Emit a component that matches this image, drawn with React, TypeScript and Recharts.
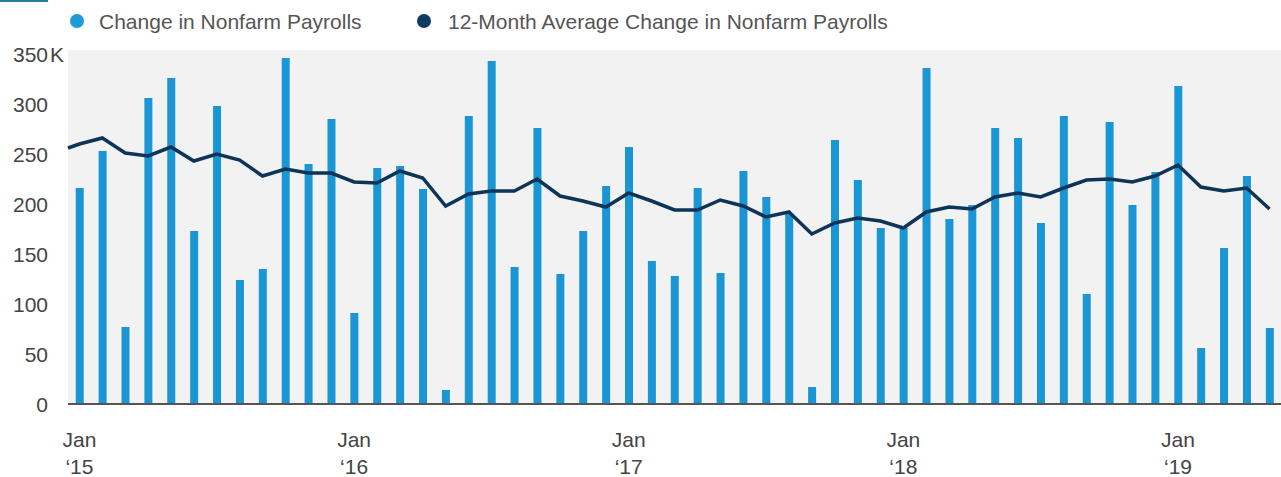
import React from 'react'
import { ComposedChart, Bar, Line, XAxis, YAxis, CartesianGrid } from 'recharts'

// monthly change in nonfarm payrolls, Jan 2015 - May 2019 (thousands)
const payrolls = [
    216, 253, 77, 306, 326, 173, 298, 124, 135, 346, 240, 285,
    91, 236, 238, 215, 14, 288, 343, 137, 276, 130, 173, 218,
    257, 143, 128, 216, 131, 233, 207, 190, 17, 264, 224, 176,
    176, 336, 185, 199, 276, 266, 181, 288, 110, 282, 199, 232,
    318, 56, 156, 228, 76,
]

// 12-month average, same months
const avgPayrolls = [
    260, 266, 251, 248, 257, 243, 250, 244, 228, 235, 231, 231,
    222, 221, 233, 226, 198, 210, 213, 213, 225, 208, 203, 197,
    211, 203, 194, 194, 204, 198, 187, 192, 170, 181, 186, 183,
    176, 192, 197, 195, 207, 211, 207, 216, 224, 225, 222, 228,
    239, 217, 213, 216, 195,
]

// the average line starts at the left edge of the plot
const avgLeftEdge = 256

const yearTicks = [0, 12, 24, 36, 48]
const yearLabels = ['‘15', '‘16', '‘17', '‘18', '‘19']
const yTicks = [0, 50, 100, 150, 200, 250, 300, 350]

const FONT = "'Liberation Sans', Arial, sans-serif"
const BAR_COLOR = '#1b96d4'
const LINE_COLOR = '#0e3558'

const data = [
    { m: -0.5, avg: avgLeftEdge },
    ...payrolls.map((v, i) => ({ m: i, payrolls: v, avg: avgPayrolls[i] })),
]

function YTick({ x, y, payload }: any) {
    return (
        <g>
            <text x={x} y={y} dy="0.36em" textAnchor="end" fill="#444" fontSize={21} fontFamily={FONT}>
                {payload.value}
            </text>
            {payload.value === 350 && (
                <text x={x + 2} y={y} dy="0.36em" textAnchor="start" fill="#444" fontSize={21} fontFamily={FONT}>
                    K
                </text>
            )}
        </g>
    )
}

function XTick({ x, y, payload }: any) {
    const i = yearTicks.indexOf(payload.value)
    return (
        <text textAnchor="middle" fill="#444" fontSize={21} fontFamily={FONT}>
            <tspan x={x} y={y + 41}>Jan</tspan>
            <tspan x={x} y={y + 68}>{yearLabels[i]}</tspan>
        </text>
    )
}

export default function App() {
    return (
        <div style={{ position: 'relative', width: 1281, height: 477, background: '#fff' }}>
            <style>{'body{margin:0}'}</style>
            <div style={{ position: 'absolute', left: 0, top: 0, width: 48, height: 2, background: '#2b7c99' }} />
            <svg width={1281} height={44} style={{ position: 'absolute', left: 0, top: 0 }}>
                <circle cx={77} cy={21} r={7} fill="#1e9ad6" />
                <text x={99} y={29} fill="#555" fontSize={21} fontFamily={FONT}>
                    Change in Nonfarm Payrolls
                </text>
                <circle cx={424} cy={21} r={7} fill="#0e3b61" />
                <text x={448} y={29} fill="#555" fontSize={21} fontFamily={FONT}>
                    12-Month Average Change in Nonfarm Payrolls
                </text>
            </svg>
            <ComposedChart width={1281} height={477} data={data} margin={{ top: 50, right: 0, bottom: 0, left: 0 }}>
                <CartesianGrid horizontal={false} vertical={false} fill="#f2f2f3" />
                <XAxis
                    type="number"
                    dataKey="m"
                    domain={[-0.5, 52.5]}
                    ticks={yearTicks}
                    interval={0}
                    tick={<XTick />}
                    tickLine={false}
                    tickSize={0}
                    axisLine={{ stroke: '#555', strokeWidth: 2 }}
                    height={73}
                />
                <YAxis
                    domain={[0, 354]}
                    ticks={yTicks}
                    interval={0}
                    tick={<YTick />}
                    tickLine={false}
                    tickSize={0}
                    tickMargin={20}
                    axisLine={false}
                    width={68}
                />
                <Bar dataKey="payrolls" fill={BAR_COLOR} barSize={8} isAnimationActive={false} />
                <Line type="linear" dataKey="avg" stroke={LINE_COLOR} strokeWidth={3.5} dot={false} isAnimationActive={false} />
            </ComposedChart>
        </div>
    )
}
